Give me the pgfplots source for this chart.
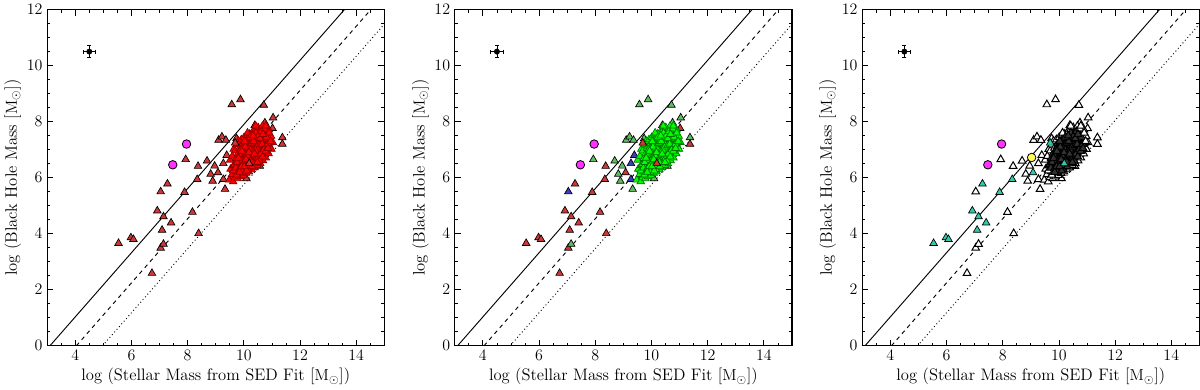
\documentclass[border=0pt]{standalone}
\usepackage{pgfplots}
\pgfplotsset{compat=1.18}
\usepackage{pgfplotstable}

\definecolor{ptred}{RGB}{205,55,55}
\definecolor{ptRed}{RGB}{255,0,0}
\definecolor{ptgreen}{RGB}{95,190,95}
\definecolor{ptGreen}{RGB}{0,255,0}
\definecolor{ptblue}{RGB}{60,60,190}
\definecolor{ptteal}{RGB}{50,200,170}
\definecolor{ptmag}{RGB}{255,50,255}
\definecolor{ptyel}{RGB}{255,255,90}

% x y class-in-panel-1 class-in-panel-2 class-in-panel-3
\pgfplotstableread{
x y a b c
5.54 3.66 r r t
5.98 3.86 r r t
6.07 3.80 r r t
6.73 2.59 r r o
6.92 4.82 r r t
7.04 5.50 r u o
7.09 4.13 r r t
7.04 3.49 r r o
7.14 3.63 r g o
7.14 4.61 r r t
7.28 5.78 r r t
7.41 4.39 r r t
7.89 5.48 r r t
7.93 6.65 r g o
8.17 4.77 r r o
8.34 5.94 r r t
8.37 6.41 r r o
8.39 4.01 r r o
8.69 6.60 r g o
8.82 6.13 r g o
8.89 5.88 r g o
8.96 6.42 r g o
9.10 7.34 r g o
9.22 7.46 r g o
9.08 6.18 r r t
9.33 5.59 r g o
9.36 7.34 r g o
9.57 8.61 r g o
9.88 8.79 r g o
9.74 7.40 r g o
9.27 6.51 r u o
9.57 6.03 r u o
10.09 5.97 r g o
10.71 8.59 r g o
11.04 8.14 r g o
11.02 7.76 r r o
11.37 7.43 r g o
11.37 7.20 r r o
10.39 7.87 r r o
10.75 7.96 r g o
10.57 6.41 r g o
10.63 6.63 r g o
10.90 7.24 r r o
9.39 6.80 r u o
9.27 5.94 r u o
9.48 5.92 R G o
9.53 6.31 R G o
9.51 6.63 R G o
9.62 5.86 R G o
9.58 6.12 R G o
9.63 6.43 R G k
9.59 6.77 R G o
9.64 7.02 R G o
9.68 6.01 R G o
9.72 6.22 R G k
9.67 6.47 R G k
9.73 6.69 R G k
9.69 6.96 R G o
9.74 7.18 R G o
9.78 5.97 R G o
9.82 6.14 R G k
9.77 6.37 R G k
9.83 6.58 R G k
9.79 6.86 R G k
9.84 7.06 R G o
9.81 7.31 R G o
9.88 6.04 R G o
9.92 6.27 R G k
9.87 6.49 R G k
9.93 6.72 R G k
9.89 6.91 R G k
9.94 7.12 R G k
9.91 7.36 R G o
9.98 6.09 R G o
10.03 6.32 R G k
9.97 6.44 R G k
10.02 6.66 R G k
9.99 6.82 R G k
10.04 7.01 R G k
9.96 7.22 R G k
10.01 7.44 R G o
10.08 6.16 R G o
10.12 6.36 R G k
10.07 6.54 R G k
10.13 6.71 R G k
10.09 6.92 R G k
10.14 7.04 R G k
10.06 7.26 R G k
10.11 7.51 R G o
10.18 6.21 R G o
10.23 6.41 R G k
10.17 6.61 R G k
10.22 6.76 R G k
10.19 6.94 R G k
10.24 7.12 R G k
10.16 7.31 R G k
10.21 7.56 R G o
10.28 6.29 R G o
10.33 6.52 R G k
10.27 6.69 R G k
10.32 6.86 R G k
10.29 7.02 R G k
10.34 7.19 R G k
10.26 7.41 R G k
10.31 7.63 R G o
10.38 6.36 R G o
10.43 6.56 R G k
10.37 6.74 R G k
10.42 6.94 R G k
10.39 7.11 R G k
10.44 7.29 R G k
10.36 7.49 R G k
10.41 7.71 R G o
10.48 6.44 R G o
10.53 6.66 R G k
10.47 6.86 R G k
10.52 7.02 R G k
10.49 7.19 R G k
10.54 7.36 R G k
10.46 7.56 R G k
10.51 7.79 R G o
10.58 6.51 R G o
10.63 6.76 R G k
10.57 6.94 R G k
10.62 7.09 R G k
10.59 7.31 R G k
10.64 7.46 R G k
10.56 7.64 R G k
10.68 6.61 R G o
10.73 6.86 R G k
10.67 7.04 R G k
10.72 7.26 R G k
10.69 7.41 R G k
10.74 7.59 R G k
10.66 7.84 R G o
10.78 6.71 R G o
10.83 6.94 R G k
10.77 7.16 R G k
10.82 7.34 R G k
10.79 7.56 R G k
10.84 7.69 R G o
10.88 6.86 R G o
10.93 7.11 R G k
10.87 7.29 R G k
10.92 7.49 R G k
10.89 7.71 R G o
10.98 7.02 R G o
11.03 7.26 R G o
10.97 7.48 R G o
10.05 6.58 R G k
10.15 6.83 R G k
10.25 6.98 R G k
10.35 7.07 R G k
10.45 7.22 R G k
10.55 7.27 R G k
10.65 7.37 R G k
10.10 6.47 R G k
10.20 6.68 R G k
10.30 6.78 R G k
10.40 6.86 R G k
10.50 6.96 R G k
10.60 7.02 R G k
10.70 7.16 R G k
9.95 6.61 R G k
10.00 6.91 R G k
10.10 7.15 R G k
10.20 7.22 R G k
10.30 7.33 R G k
10.40 7.40 R G k
10.50 7.45 R G k
10.60 7.55 R G k
10.15 6.30 R G k
10.25 6.45 R G k
10.35 6.62 R G k
10.45 6.72 R G k
10.55 6.80 R G k
10.65 6.90 R G k
9.85 6.80 R G k
9.90 6.62 R G k
9.62 6.25 R G o
9.71 6.35 R G k
9.76 6.55 R G k
9.86 6.35 R G k
9.81 6.70 R G k
9.90 7.00 R G k
9.95 6.20 R G k
10.00 6.50 R G k
10.05 6.75 R G k
10.05 7.10 R G k
10.10 6.25 R G k
10.12 6.80 R G k
10.15 7.40 R G k
10.18 6.45 R G k
10.22 7.00 R G k
10.25 6.60 R G k
10.27 7.25 R G k
10.30 6.40 R G k
10.32 6.95 R G k
10.35 7.30 R G k
10.37 6.50 R G k
10.40 7.00 R G k
10.43 7.60 R G k
10.45 6.60 R G k
10.47 7.10 R G k
10.50 6.70 R G k
10.52 7.50 R G k
10.55 6.60 R G k
10.57 7.15 R G k
10.60 6.85 R G k
10.62 7.65 R G k
10.65 7.20 R G k
10.67 6.75 R G k
10.70 7.50 R G k
10.72 7.00 R G k
10.75 7.75 R G o
10.78 6.95 R G k
10.80 7.45 R G k
10.85 7.20 R G k
10.90 7.60 R G o
10.95 7.30 R G o
9.75 6.10 R G o
9.85 6.20 R G k
9.92 6.40 R G k
10.02 6.40 R G k
10.08 6.65 R G k
10.18 6.90 R G k
10.28 6.55 R G k
10.38 6.85 R G k
10.48 6.55 R G k
10.58 7.40 R G k
10.68 7.55 R G k
10.78 7.85 R G o
10.86 7.05 R G k
9.93 6.95 R G k
10.03 7.30 R G k
10.13 7.60 R G o
10.23 7.45 R G k
10.33 7.50 R G k
10.42 7.85 R G o
9.69 7.24 r r t
10.19 6.51 r r t
}\mstar

\pgfplotsset{
  bhpanel/.style={
    scale only axis, width=253.5pt, height=252.75pt,
    xmin=3, xmax=15, ymin=0, ymax=12,
    xtick={4,6,...,14}, ytick={0,2,...,12},
    minor xtick={3,3.5,...,15}, minor ytick={0,0.5,...,12},
    major tick length=4.5pt, minor tick length=2.4pt,
    tick style={black, line width=0.6pt},
    axis line style={line width=0.9pt},
    every tick label/.append style={font=\fontsize{12.5}{14}\selectfont},
    xlabel={log (Stellar Mass from SED Fit [$\mathrm{M}_{\odot}$])},
    ylabel={log (Black Hole Mass [$\mathrm{M}_{\odot}$])},
    every axis x label/.style={at={(axis description cs:0.5,-0.092)}, anchor=center,
      font=\fontsize{12.5}{14}\selectfont},
    every axis y label/.style={at={(axis description cs:-0.102,0.5)}, rotate=90, anchor=center,
      font=\fontsize{12.5}{14}\selectfont},
  },
  tri/.style={only marks, scatter, scatter src=explicit symbolic,
    mark=triangle*, mark size=3.3pt, mark options={line width=0.5pt}},
}

\newcommand{\guides}{%
  \addplot[black, line width=0.7pt] coordinates {(3.10,0) (13.58,12)};
  \addplot[black, line width=0.7pt, dashed] coordinates {(4.04,0) (14.52,12)};
  \addplot[black, line width=0.7pt, dotted] coordinates {(4.97,0) (15,11.48)};
  \addplot[black, mark=none, only marks,
    error bars/.cd, x dir=both, y dir=both, x explicit, y explicit,
    error bar style={line width=0.5pt, solid},
    error mark options={rotate=90, mark size=1.5pt, line width=0.5pt}]
    coordinates {(4.5,10.5) +- (0.22,0.21)};
}
\newcommand{\rings}{%
  \addplot[only marks, mark=*, mark size=3.2pt,
    mark options={fill=ptmag, draw=black, line width=0.6pt}]
    coordinates {(7.47,6.46) (7.96,7.20)};
}

\begin{document}
\begin{tikzpicture}
\begin{axis}[bhpanel]
  \guides
  \addplot[tri, scatter/classes={
      r={fill=ptred, draw=black},
      R={fill=ptRed, draw=red!55!black}}]
    table[x=x, y=y, meta=a] {\mstar};
  \rings
\end{axis}

\begin{axis}[bhpanel, at={(306.45pt,0)}]
  \guides
  \addplot[tri, scatter/classes={
      r={fill=ptred, draw=black},
      g={fill=ptgreen, draw=black},
      G={fill=ptGreen, draw=green!45!black},
      u={fill=ptblue, draw=black}}]
    table[x=x, y=y, meta=b] {\mstar};
  \rings
\end{axis}

\begin{axis}[bhpanel, at={(612.75pt,0)}]
  \guides
  \addplot[tri, scatter/classes={
      o={fill=white, draw=black, line width=0.75pt},
      k={fill=black!80, draw=black, line width=0.75pt},
      t={fill=ptteal, draw=black}}]
    table[x=x, y=y, meta=c] {\mstar};
  \rings
  \addplot[only marks, mark=*, mark size=3.2pt,
    mark options={fill=ptyel, draw=black, line width=0.6pt}]
    coordinates {(9.03,6.72)};
\end{axis}
\end{tikzpicture}
\end{document}
